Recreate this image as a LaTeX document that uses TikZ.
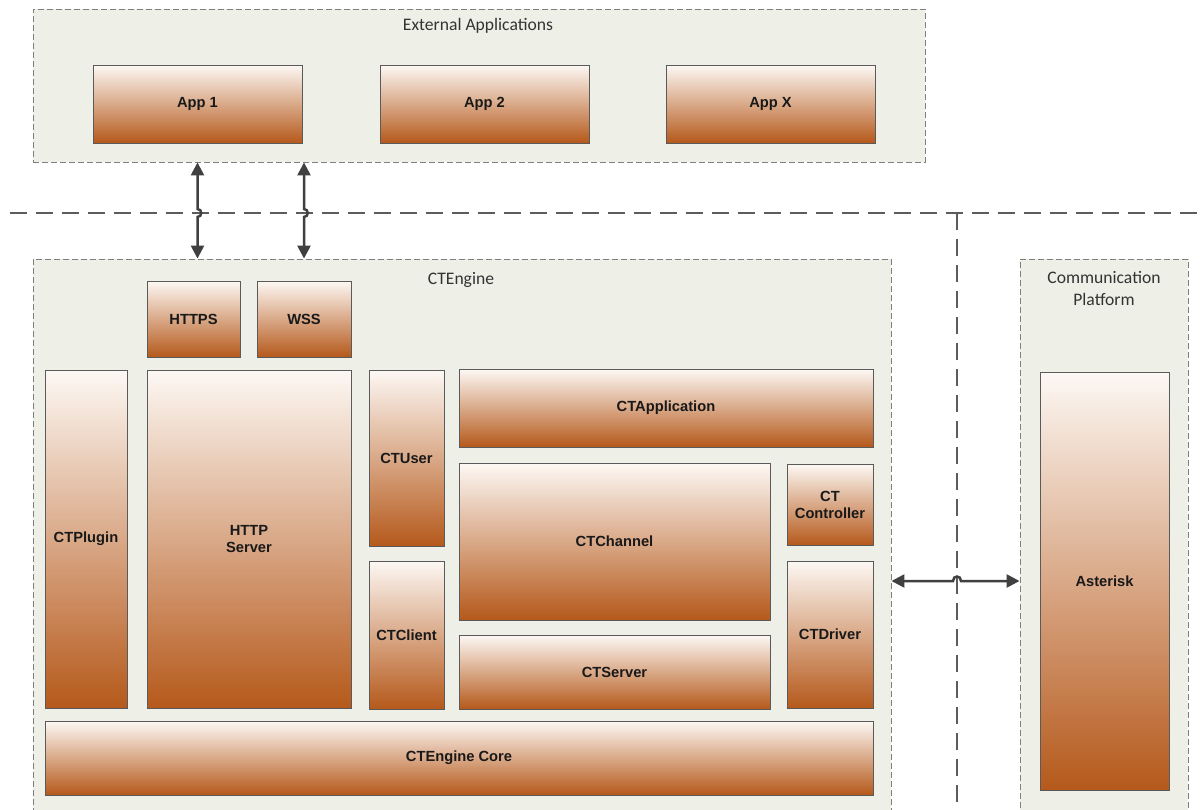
\documentclass[tikz,border=0pt]{standalone}
\usepackage{fontspec}
\setmainfont{Liberation Sans}
\newfontfamily\titlefont{Carlito}
\usetikzlibrary{arrows.meta,shadows}
\definecolor{boxtop}{HTML}{FDF8F4}
\definecolor{boxbot}{HTML}{B5591B}
\definecolor{boxline}{HTML}{5A5A5A}
\definecolor{contfill}{HTML}{EEF0E7}
\definecolor{contline}{HTML}{7F7F7F}
\definecolor{sepline}{HTML}{5C5C5C}
\definecolor{arrowcol}{HTML}{404040}
\definecolor{titlecol}{HTML}{333333}
\tikzset{
  bx/.style={draw=boxline, line width=0.8pt, top color=boxtop, bottom color=boxbot,
    drop shadow={shadow xshift=1.3pt, shadow yshift=-1.3pt, fill=black, opacity=0.22},
    align=center, inner sep=2pt, font=\fontsize{14.7}{17}\selectfont\bfseries, text=black!90},
  cont/.style={draw=contline, fill=contfill, line width=0.9pt, dash pattern=on 6pt off 3pt},
  ctitle/.style={font=\titlefont\fontsize{17.6}{22}\selectfont, text=titlecol, align=center},
  sep/.style={draw=sepline, line width=2.4pt, dash pattern=on 17pt off 9pt},
  conn/.style={draw=arrowcol, line width=2.5pt, {Triangle[length=13pt,width=13pt]}-{Triangle[length=13pt,width=13pt]}}
}
\begin{document}
\begin{tikzpicture}[x=1pt,y=-1pt]
\clip (0,0) rectangle (1200,809);
\fill[white] (0,0) rectangle (1200,809);
% separators
\draw[sep] (10,213) -- (1200,213);
\draw[sep] (957,213) -- (957,815);
% containers
\node[cont, minimum width=892pt, minimum height=153pt] (ext) at (479,85.5) {};
\node[cont, minimum width=858pt, minimum height=561pt] (eng) at (462,539.5) {};
\node[cont, minimum width=168pt, minimum height=561pt] (comm) at (1104,539.5) {};
\node[ctitle] (extt) at (478,26) {External Applications};
\node[ctitle] (engt) at (461,280) {CTEngine};
\node[ctitle] (commt) at (1104,288) {Communication\\Platform};
% boxes
\node[bx, minimum width=209pt, minimum height=78pt] (app1) at (197.5,104) {App 1};
\node[bx, minimum width=209pt, minimum height=78pt] (app2) at (484.5,104) {App 2};
\node[bx, minimum width=209pt, minimum height=78pt] (appx) at (770.5,104) {App X};
\node[bx, minimum width=93pt, minimum height=76pt] (https) at (193.5,319) {HTTPS};
\node[bx, minimum width=94pt, minimum height=76pt] (wss) at (304,319) {WSS};
\node[bx, minimum width=82pt, minimum height=338pt] (plugin) at (86,539) {CTPlugin};
\node[bx, minimum width=204pt, minimum height=338pt] (http) at (249,539) {HTTP\\Server};
\node[bx, minimum width=75pt, minimum height=176pt] (user) at (406.5,458) {CTUser};
\node[bx, minimum width=75pt, minimum height=148pt] (client) at (406.5,635) {CTClient};
\node[bx, minimum width=414pt, minimum height=78pt] (appl) at (666,408) {CTApplication};
\node[bx, minimum width=311pt, minimum height=157pt] (chan) at (614.5,541.5) {CTChannel};
\node[bx, minimum width=86pt, minimum height=81pt] (ctrl) at (830,504.5) {CT\\Controller};
\node[bx, minimum width=86pt, minimum height=147pt] (drv) at (830,634.5) {CTDriver};
\node[bx, minimum width=311pt, minimum height=74pt] (srv) at (614.5,672) {CTServer};
\node[bx, minimum width=828pt, minimum height=74pt] (core) at (459,758) {CTEngine Core};
\node[bx, minimum width=129pt, minimum height=418pt] (ast) at (1104.5,581) {Asterisk};
% connectors
\coordinate (h1a) at (app1.center |- 0,209);
\coordinate (h1b) at (app1.center |- 0,217);
\coordinate (h2a) at (wss.center |- 0,209);
\coordinate (h2b) at (wss.center |- 0,217);
\draw[conn] (app1.center |- ext.south) -- (h1a) .. controls ++(5,0) and ++(5,0) .. (h1b) -- (app1.center |- eng.north);
\draw[conn] (wss.center |- ext.south) -- (h2a) .. controls ++(5,0) and ++(5,0) .. (h2b) -- (wss.center |- eng.north);
\coordinate (hop1) at (953,581);
\coordinate (hop2) at (961,581);
\draw[conn] (eng.east |- ast.west) -- (hop1) .. controls ++(0,-6) and ++(0,-6) .. (hop2) -- (comm.west |- ast.west);
\end{tikzpicture}
\end{document}
